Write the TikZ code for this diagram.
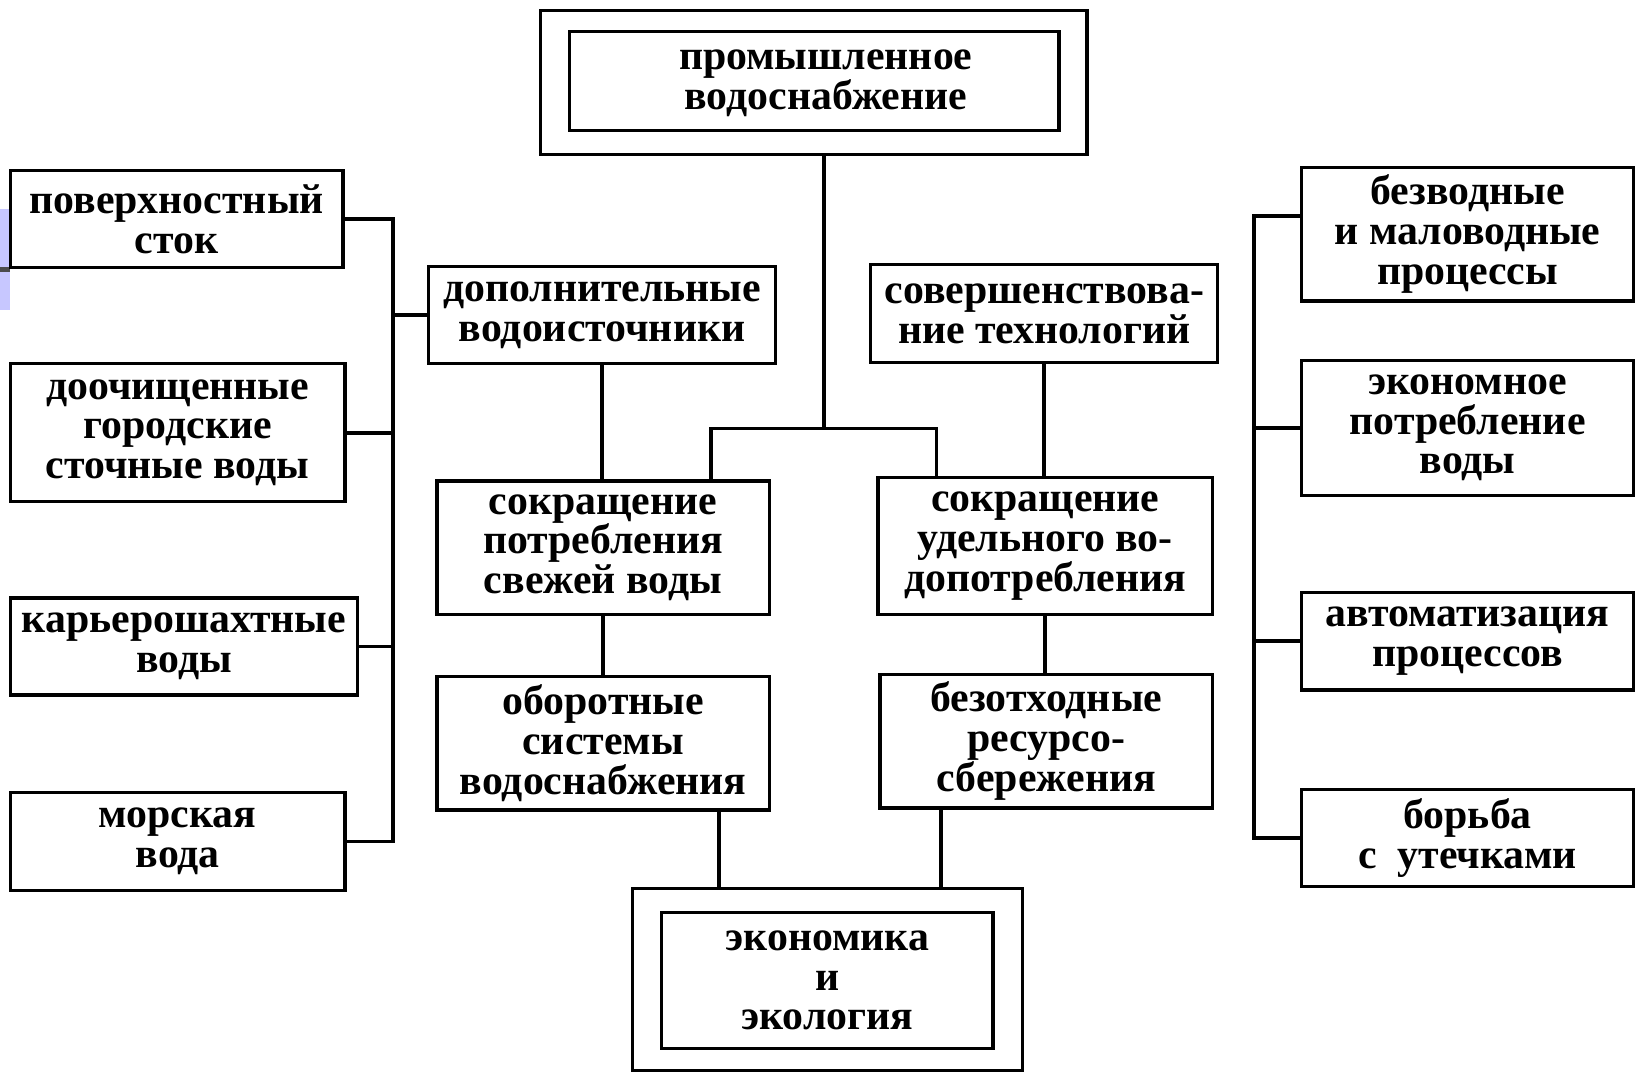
\documentclass[tikz,border=0pt]{standalone}
\usepackage{fontspec}
\setmainfont{Liberation Serif}
\usetikzlibrary{calc}
\tikzset{
  box/.style={draw, line width=1.6pt, inner sep=0pt, align=center,
    font=\fontsize{20}{19}\selectfont\bfseries},
  txt/.style={inner sep=0pt, align=center, font=\fontsize{20}{19}\selectfont\bfseries},
  frame/.style={draw, line width=1.6pt, inner sep=0pt},
  conn/.style={line width=1.8pt},
}
\begin{document}
\begin{tikzpicture}[x=0.5pt,y=-0.5pt]
\useasboundingbox (0,0) rectangle (1568,1026);
% slide decoration at the left edge
\fill[blue!22!white] (0,200) rectangle (10,297);
\fill[black!70] (0,255) rectangle (10,260);

% top
\node[frame, minimum width=261.5pt, minimum height=69pt] (topouter) at (778.5,79) {};
\node[frame, minimum width=234pt, minimum height=47.5pt] (top) at (779,77.5) {};
\node[txt] (toptext) at (790,80) {промышленное\\водоснабжение};

% left column
\node[box, minimum width=159pt, minimum height=46.5pt] (L1) at (169,209.5) {поверхностный\\сток};
\node[box, minimum width=160pt, minimum height=66pt] (L2) at (170,414) {доочищенные\\городские\\сточные воды};
\node[box, minimum width=166pt, minimum height=46.5pt] (L3) at (176,618.5) {карьерошахтные\\воды};
\node[box, minimum width=160pt, minimum height=47pt] (L4) at (170,805) {морская\\вода};

% centre left
\node[box, minimum width=166pt, minimum height=46.5pt] (C1) at (576,301.5) {дополнительные\\водоисточники};
\node[box, minimum width=159pt, minimum height=64pt] (C2) at (577,524) {сокращение\\потребления\\свежей воды};
\node[box, minimum width=159pt, minimum height=64pt] (C3) at (577,711) {оборотные\\системы\\водоснабжения};

% centre right
\node[box, minimum width=166pt, minimum height=47pt] (R1) at (999,300) {совершенствова-\\ние технологий};
\node[box, minimum width=160pt, minimum height=65.5pt] (R2) at (1000,522.5) {сокращение\\удельного во-\\допотребления};
\node[box, minimum width=159pt, minimum height=64pt] (R3) at (1001,709) {безотходные\\ресурсо-\\сбережения};

% bottom
\node[frame, minimum width=186.5pt, minimum height=87pt] (botouter) at (791.5,937) {};
\node[box, minimum width=158.5pt, minimum height=65pt] (bot) at (791.5,938) {экономика\\и\\экология};

% right column
\node[box, minimum width=159pt, minimum height=64pt] (RR1) at (1404,224) {безводные\\и маловодные\\процессы};
\node[box, minimum width=159pt, minimum height=64.5pt] (RR2) at (1404,409.5) {экономное\\потребление\\воды};
\node[box, minimum width=159pt, minimum height=46.5pt] (RR3) at (1404,613.5) {автоматизация\\процессов};
\node[box, minimum width=159pt, minimum height=46.5pt] (RR4) at (1404,801.5) {борьба\\с\hspace{0.5em}утечками};

% junction coordinates
\coordinate (j) at (788,410);
\coordinate (jl) at (680,410);
\coordinate (jr) at (896,410);
\coordinate (lb) at (376,0);
\coordinate (rb1) at (1200,207);
\coordinate (bl) at (688,0);
\coordinate (br) at (900,0);

% connectors
\draw[conn] (j |- topouter.south) -- (j);
\draw[conn] (jl |- C2.north) -- (jl) -- (jr) -- (jr |- R2.north);
\draw[conn] (C1.south) -- (C1.south |- C2.north);
\draw[conn] (C2.south) -- (C2.south |- C3.north);
\draw[conn] (R1.south) -- (R1.south |- R2.north);
\draw[conn] (R2.south) -- (R2.south |- R3.north);
\draw[conn] (bl |- C3.south) -- (bl |- botouter.north);
\draw[conn] (br |- R3.south) -- (br |- botouter.north);

\draw[conn] (L1.east) -- (L1.east -| lb) -- (L4.east -| lb) -- (L4.east);
\draw[conn] (L2.east) -- (L2.east -| lb);
\draw[conn] (L3.east) -- (L3.east -| lb);
\draw[conn] (C1.west) -- (C1.west -| lb);

\draw[conn] (rb1 -| RR1.west) -- (rb1) -- (rb1 |- RR4.west) -- (RR4.west);
\draw[conn] (RR2.west) -- (RR2.west -| rb1);
\draw[conn] (RR3.west) -- (RR3.west -| rb1);
\end{tikzpicture}
\end{document}
